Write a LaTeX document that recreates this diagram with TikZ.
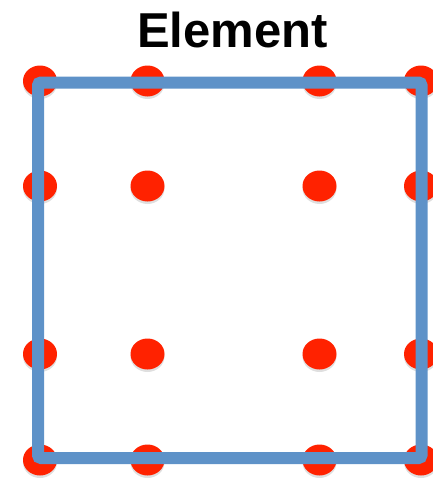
\documentclass[tikz,border=0pt]{standalone}
\usepackage{fontspec}
\setmainfont{Liberation Sans}
\usepackage{xcolor}
\usetikzlibrary{shapes.geometric, shadows}

\definecolor{dotred}{HTML}{FF2200}
\definecolor{elemblue}{HTML}{5E92C8}

\begin{document}
\begin{tikzpicture}[x=1pt, y=-1pt]

% Defined styles
\tikzstyle{gridpt} = [ellipse, minimum width=34pt, minimum height=31pt, inner sep=0pt, fill=dotred, drop shadow={opacity=0.25, shadow xshift=0pt, shadow yshift=-2.5pt}]
\tikzstyle{elembox} = [draw=elemblue, line width=12pt, rounded corners=3pt]

\useasboundingbox (0,0) rectangle (432,479);

% --- Title ---
\node (title) [anchor=base, inner sep=0pt] at (232.5,47) {\fontsize{49}{50}\selectfont\bfseries Element};

% --- Grid points (4 x 4) ---
\foreach \i/\x in {1/40, 2/147.5, 3/319.5, 4/421}
  \foreach \j/\y in {1/81, 2/186, 3/354, 4/460}
    \node (pt\i\j) [gridpt] at (\x,\y) {};

% --- Element boundary ---
\coordinate (nw) at (38,82.5);
\coordinate (se) at (421.5,458);
\draw [elembox] (nw) rectangle (se);

\end{tikzpicture}
\end{document}
